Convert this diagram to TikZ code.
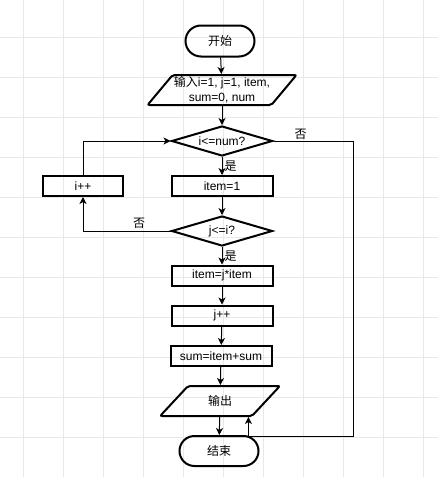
\documentclass[tikz,border=0pt]{standalone}
\usepackage{fontspec}
\setmainfont{Liberation Sans}
\newfontfamily\cjk{Noto Sans CJK SC}
\usetikzlibrary{shapes.geometric,shapes.misc,arrows.meta}
\begin{document}
\begin{tikzpicture}[x=1pt,y=-1pt,->,>={Stealth[length=7pt,width=7pt,inset=2pt]},line width=1pt,font=\fontsize{12}{15}\selectfont]
	\tikzstyle{grid}=[-,draw=black!9,line width=0.8pt]
	\tikzstyle{term}=[rounded rectangle,draw,line width=2pt,minimum width=71pt,minimum height=31pt,inner sep=1pt]
	\tikzstyle{io}=[trapezium,trapezium left angle=49,trapezium right angle=131,trapezium stretches=true,draw,line width=2pt,rounded corners=2pt,minimum height=30pt,inner sep=1pt,align=center]
	\tikzstyle{proc}=[rectangle,draw,line width=2pt,minimum width=101pt,minimum height=20pt,inner sep=1pt]
	\tikzstyle{decide}=[diamond,aspect=3.4,draw,line width=2pt,minimum width=101pt,minimum height=30pt,inner sep=0pt]
	\tikzstyle{lbl}=[inner sep=2pt,font=\cjk\fontsize{12}{15}\selectfont]
	\useasboundingbox (0,0) rectangle (438,477);
	\fill[white] (0,0) rectangle (438,477);
	\foreach \x in {23,63,...,423} \draw[grid] (\x,0) -- (\x,477);
	\foreach \y in {37,77,...,477} \draw[grid] (0,\y) -- (438,\y);

	\node[term] (Start) at (220,41) {{\cjk 开始}};
	\node[io, minimum width=149pt] (In) at (222,90) {{\cjk 输入}i=1, j=1, item,\\sum=0, num};
	\node[decide] (D1) at (222,141) {i<=num?};
	\node[proc] (Item) at (222,186) {item=1};
	\node[proc, minimum width=80pt] (Inc) at (83,186) {i++};
	\node[decide] (D2) at (222,231) {j<=i?};
	\node[proc] (Mul) at (222,275.5) {item=j*item};
	\node[proc] (Jpp) at (222,315.5) {j++};
	\node[proc] (Sum) at (221,356) {sum=item+sum};
	\node[io, minimum width=120pt] (Out) at (220,401) {{\cjk 输出}};
	\node[term, minimum width=81pt, minimum height=30pt] (End) at (219,451) {{\cjk 结束}};
	\coordinate (R) at (353,436);

	\draw (Start) -- (In);
	\draw (In) -- (D1);
	\draw (D1) -- node[lbl, right] {是} (Item);
	\draw (Item) -- (D2);
	\draw (D2) -- node[lbl, right] {是} (Mul);
	\draw (Mul) -- (Jpp);
	\draw (Jpp) -- (Sum);
	\draw (Sum) -- (Out);
	\draw (Out) -- (End);

	\draw (D2) -| node[lbl, pos=0.18, above] {否} (Inc);
	\draw (Inc) |- (D1);
	\draw (D1) -| node[lbl, pos=0.17, above=-1pt] {否} (R) -| ([xshift=-4pt]Out.bottom right corner);
\end{tikzpicture}
\end{document}
